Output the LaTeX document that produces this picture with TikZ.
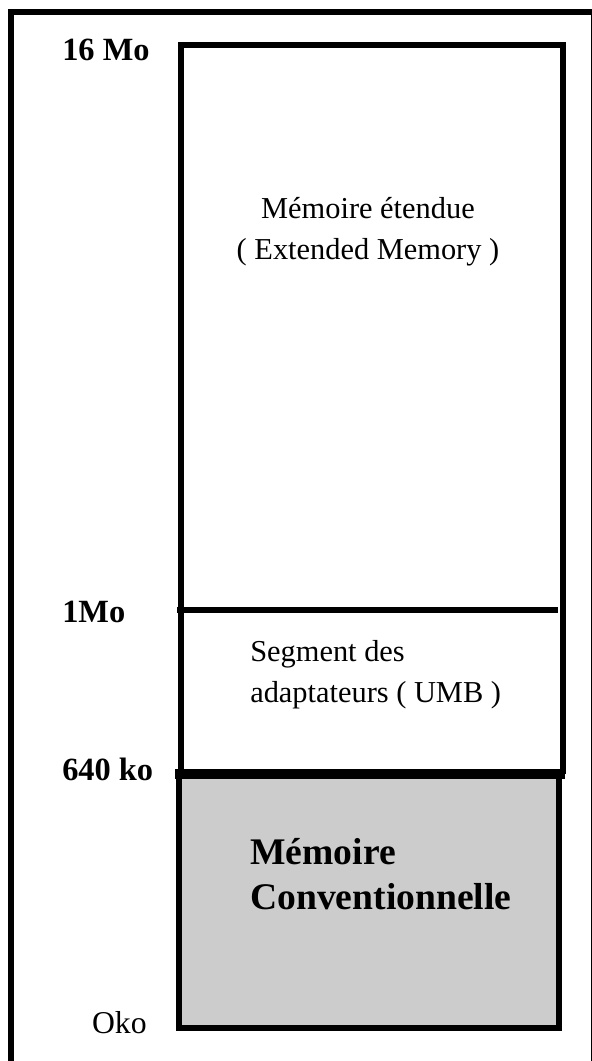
\documentclass[tikz,border=0pt]{standalone}
\usepackage{fontspec}
\setmainfont{Liberation Serif}
\definecolor{convgray}{HTML}{CCCCCC}

\begin{document}
\begin{tikzpicture}[x=0.75pt,y=-0.75pt,
                    frame/.style={draw,line width=4.5pt},
                    zone/.style={draw,line width=4.5pt},
                    limit/.style={font=\bfseries\fontsize{24.3}{28}\selectfont,inner sep=0pt},
                    txt/.style={font=\fontsize{22.8}{30.5}\selectfont,inner sep=0pt},
                    convtxt/.style={font=\bfseries\fontsize{28.2}{33.75}\selectfont,inner sep=0pt}]
\useasboundingbox (0,0) rectangle (592,1061);
\clip (0,0) rectangle (592,1061);
\draw[frame] (11,12) rectangle (594,1075);
% zones
\draw[zone] (181,774) -- (181,44.5) -- (563,44.5) -- (563,774);
\draw[zone] (177,610) -- (558,610);
\fill[convgray] (179,774) rectangle (559,1028);
\draw[zone] (179,774) -- (179,1028) -- (559,1028) -- (559,774);
\draw[line width=7.5pt] (175,774) -- (565,774);
% texts
\node[txt,align=center]            (ext)  at (368,232) {Mémoire étendue\\( Extended Memory )};
\node[txt,align=left,anchor=west]  (umb)  at (250,675) {Segment des\\adaptateurs ( UMB )};
\node[convtxt,align=left,anchor=west] (conv) at (250,874) {Mémoire\\Conventionnelle};
% limits
\node[limit,anchor=base west] (l16)  at (62,60)  {16 Mo};
\node[limit,anchor=base west] (l1)   at (62,622) {1Mo};
\node[limit,anchor=base west] (l640) at (62,780) {640 ko};
\node[txt,font=\fontsize{23.8}{28}\selectfont,anchor=base east] (l0) at (147,1033) {Oko};
\end{tikzpicture}
\end{document}
